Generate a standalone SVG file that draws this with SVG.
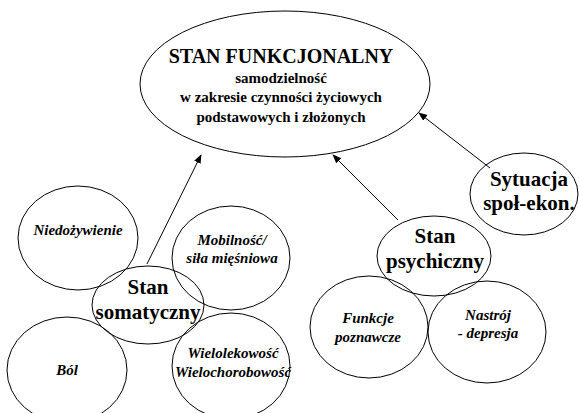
<svg xmlns="http://www.w3.org/2000/svg" width="579" height="413" viewBox="0 0 579 413">
<style>
.n{fill:none;stroke:#000;stroke-width:1}
.t{font-family:"Liberation Serif","Times New Roman",serif;font-weight:bold;text-anchor:middle;fill:#000}
.big{font-size:21px}
.mid{font-size:15px}
.it{font-size:15px;font-style:italic}
.c{stroke:#000;stroke-width:1;fill:none;marker-end:url(#ah)}
</style>
<defs>
<marker id="ah" viewBox="0 0 10 10" refX="9" refY="5" markerWidth="9" markerHeight="9" markerUnits="userSpaceOnUse" orient="auto">
<path d="M0,1 L10,5 L0,9 Z" fill="#000"/>
</marker>
</defs>
<rect width="579" height="413" fill="#fff"/>
<g id="connectors">
<line class="c" x1="147" y1="264" x2="201" y2="155"/>
<line class="c" x1="398" y1="220" x2="333" y2="155"/>
<line class="c" x1="490" y1="168" x2="419" y2="113"/>
</g>
<g id="stan-funkcjonalny">
<ellipse class="n" cx="285" cy="84" rx="145" ry="73"/>
<text class="t" x="281" y="63" font-size="20">STAN FUNKCJONALNY</text>
<text class="t mid" x="281" y="83">samodzielność</text>
<text class="t mid" x="281" y="102">w zakresie czynności życiowych</text>
<text class="t mid" x="281" y="122">podstawowych i złożonych</text>
</g>
<g id="sytuacja">
<ellipse class="n" cx="524" cy="194" rx="54" ry="41"/>
<text class="t big" x="529" y="186">Sytuacja</text>
<text class="t big" x="529" y="210">społ-ekon.</text>
</g>
<g id="stan-psychiczny">
<ellipse class="n" cx="434" cy="256" rx="57" ry="40"/>
<text class="t big" x="435" y="243">Stan</text>
<text class="t big" x="435" y="268">psychiczny</text>
</g>
<g id="funkcje-poznawcze">
<ellipse class="n" cx="369" cy="327" rx="59" ry="51"/>
<text class="t it" x="368" y="323">Funkcje</text>
<text class="t it" x="368" y="342">poznawcze</text>
</g>
<g id="nastroj">
<ellipse class="n" cx="487" cy="332" rx="59" ry="51"/>
<text class="t it" x="488" y="320">Nastrój</text>
<text class="t it" x="488" y="338">- depresja</text>
</g>
<g id="niedozywienie">
<ellipse class="n" cx="78" cy="238" rx="60" ry="52"/>
<text class="t it" x="78" y="235">Niedożywienie</text>
</g>
<g id="mobilnosc">
<ellipse class="n" cx="231" cy="258" rx="59" ry="52"/>
<text class="t it" x="232" y="245">Mobilność/</text>
<text class="t it" x="232" y="263">siła mięśniowa</text>
</g>
<g id="bol">
<ellipse class="n" cx="67" cy="370" rx="60" ry="53"/>
<text class="t it" x="67" y="375">Ból</text>
</g>
<g id="wielolekowosc">
<ellipse class="n" cx="231" cy="366" rx="59" ry="53"/>
<text class="t it" x="233" y="358">Wielolekowość</text>
<text class="t it" x="233" y="377">Wielochorobowość</text>
</g>
<g id="stan-somatyczny">
<ellipse class="n" cx="148" cy="305" rx="56" ry="39"/>
<text class="t big" x="148" y="294">Stan</text>
<text class="t big" x="148" y="319">somatyczny</text>
</g>
</svg>
